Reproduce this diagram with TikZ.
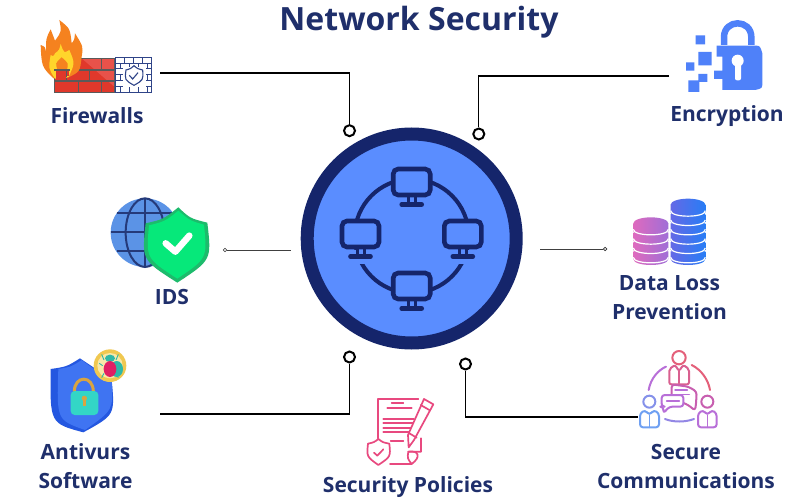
\documentclass[tikz,border=0pt]{standalone}
\usepackage{fontspec}
\setmainfont{Open Sans}
\definecolor{navy}{HTML}{15256B}
\definecolor{hubblue}{HTML}{5A8DFF}
\definecolor{txt}{HTML}{1F2F6B}
\definecolor{lockblue}{HTML}{4F81F9}
\definecolor{brick}{HTML}{E0382B}
\definecolor{brickl}{HTML}{E8524A}
\definecolor{wallg}{HTML}{5A5A5A}
\definecolor{flame}{HTML}{F5821F}
\definecolor{flamey}{HTML}{FFD52B}
\definecolor{wallnavy}{HTML}{2F4488}
\definecolor{globe}{HTML}{5B93E6}
\definecolor{globel}{HTML}{253A7A}
\definecolor{shieldg}{HTML}{06E87A}
\definecolor{shieldd}{HTML}{1DBB6C}
\definecolor{pol}{HTML}{E8497F}
\definecolor{avdark}{HTML}{2457E0}
\definecolor{avlight}{HTML}{3F74F2}
\definecolor{avteal}{HTML}{33D6C6}
\definecolor{avgold}{HTML}{D9A441}
\definecolor{badge}{HTML}{F0C850}
\definecolor{badgein}{HTML}{F8E8A8}
\definecolor{bugpink}{HTML}{E01F63}
\definecolor{bugteal}{HTML}{2FB8A8}
\tikzset{
 lab/.style={font=\fontsize{21}{29}\selectfont\bfseries,text=txt,align=center,inner sep=0pt},
 conn/.style={draw=black,line width=1.3pt},
 thinconn/.style={draw=black!75,line width=.9pt},
 dot/.style={circle,draw=black,line width=2pt,fill=white,minimum size=11pt,inner sep=0pt},
 minidot/.style={circle,draw=black!80,line width=.7pt,fill=white,minimum size=3.5pt,inner sep=0pt},
 mon/.style={draw=navy,fill=hubblue,line width=4.6pt,rounded corners=5pt},
 stand/.style={draw=navy,line width=4.6pt,line cap=round},
}
\newcommand{\monitor}[2]{%
 \fill[hubblue] (#1-14,#2+16) rectangle (#1+14,#2+30);
 \draw[mon] (#1-18.5,#2-13) rectangle (#1+18.5,#2+13);
 \draw[navy,line width=3pt] (#1-3.5,#2+13) -- (#1-3.5,#2+22) (#1+3.5,#2+13) -- (#1+3.5,#2+22);
 \draw[stand] (#1-10,#2+22.5) -- (#1+10,#2+22.5);}
\begin{document}
\begin{tikzpicture}[x=1pt,y=-1pt]
\useasboundingbox[fill=white] (0,0) rectangle (800,500);
\node[font=\fontsize{32}{36}\selectfont\bfseries,text=txt,inner sep=0pt] (title) at (419,22.5) {Network Security};
% hub
\node[circle,draw=navy,line width=13pt,fill=hubblue,minimum size=209pt,inner sep=0pt] (hub) at (411.7,238.5) {};
\node[circle,draw=navy,line width=4pt,minimum size=114pt,inner sep=0pt] (ring) at (411.7,236) {};
\monitor{411.7}{182}
\monitor{360.5}{234}
\monitor{462.8}{234}
\monitor{411.7}{286}
% connectors
\coordinate (fwEnd) at (160,73);
\coordinate (enEnd) at (669,76);
\coordinate (idsEnd) at (291,250);
\coordinate (dlEnd) at (540,249);
\coordinate (avEnd) at (160,414);
\coordinate (scEnd) at (638,417);
\node[dot] (fwDot) at (349.5,130.7) {};
\node[dot] (enDot) at (478.8,134) {};
\node[dot] (avDot) at (349.5,357) {};
\node[dot] (scDot) at (465.5,364) {};
\node[minidot] (idsDot) at (225,250) {};
\node[minidot] (dlDot) at (605,249) {};
\draw[conn] (fwEnd) -| (fwDot);
\draw[conn] (enEnd) -| (enDot);
\draw[conn] (avEnd) -| (avDot);
\draw[conn] (scEnd) -| (scDot);
\draw[thinconn] (idsDot) -- (idsEnd);
\draw[thinconn] (dlEnd) -- (dlDot);
% labels
\node[lab] (lfw) at (97,116) {Firewalls};
\node[lab] (len) at (727,116) {Encryption};
\node[lab] (lids) at (172,296.5) {IDS};
\node[lab] (ldl) at (669.5,297.5) {Data Loss\\Prevention};
\node[lab] (lav) at (85.5,466) {Antivurs\\Software};
\node[lab] (lsp) at (408,487.5) {Security Policies};
\node[lab] (lsc) at (686,466) {Secure\\Communications};
% firewall icon
\begin{scope}[shift={(20,0)},scale=1/3]
 \fill[brick] (103,175) rectangle (283,280);
 \fill[brickl] (185,175) -- (283,175) -- (283,260) -- cycle;
 \draw[wallg,line width=1.3pt] (103,175) rectangle (283,278)
  (103,210) -- (283,210) (103,243) -- (283,243)
  (245,175) -- (245,210) (208,210) -- (208,243) (140,210) -- (140,243) (175,243) -- (175,278) (245,243) -- (245,278);
 \fill[flame] (100,235) .. controls (65,200) .. (62,135) .. controls (75,140) .. (78,155)
   .. controls (78,115) .. (92,88) .. controls (100,105) .. (105,122)
   .. controls (125,95) .. (118,60) .. controls (150,85) .. (155,130)
   .. controls (163,120) .. (165,100) .. controls (190,140) .. (185,170)
   .. controls (180,215) .. (145,232) -- cycle;
 \fill[flamey] (105,236) .. controls (85,205) .. (92,165) .. controls (100,170) .. (105,160)
   .. controls (118,150) .. (122,132) .. controls (132,160) .. (148,150)
   .. controls (165,190) .. (145,232) -- cycle;
 \fill[flame] (114,212) .. controls (105,190) .. (125,172) .. controls (146,190) .. (140,212) -- cycle;
 \fill[brick] (107,213) rectangle (138,240);
 \fill[brick] (142,213) rectangle (148,228);
 \draw[wallg,line width=1.3pt] (103,210) -- (150,210) (140,210) -- (140,232);
 % white wall
 \fill[white] (285,172) rectangle (395,278);
 \draw[wallnavy,line width=1pt] (286,172) rectangle (395,278);
 \foreach \yy in {190,207,225,243,260} \draw[wallnavy,line width=1pt] (286,\yy) -- (395,\yy);
 \foreach \xx in {313,340,367} {\draw[wallnavy,line width=1pt] (\xx,172) -- (\xx,190) (\xx,207) -- (\xx,225) (\xx,243) -- (\xx,260);}
 \foreach \xx in {300,327,354,381} {\draw[wallnavy,line width=1pt] (\xx,190) -- (\xx,207) (\xx,225) -- (\xx,243) (\xx,260) -- (\xx,278);}
 \fill[white] (308,200) rectangle (378,262);
 \draw[wallnavy,line width=1.1pt,fill=white] (342,197) .. controls (352,206) .. (368,210) .. controls (370,240) .. (342,256) .. controls (314,240) .. (318,210) .. controls (332,206) .. cycle;
 \draw[wallnavy,line width=1.1pt] (328,226) -- (338,237) -- (354,218);
\end{scope}
% encryption icon
\begin{scope}[shift={(640,0)},scale=1/3]
 \draw[lockblue,line width=6.5pt] (252,135) -- (252,112) .. controls (252,56) and (334,56) .. (334,112) -- (334,135);
 \fill[lockblue] (230,137) -- (345,137) .. controls (360,137) .. (367,160) -- (367,248) .. controls (367,265) .. (345,270) -- (247,270) -- (247,237) -- (222,237) -- (222,212) -- (247,212) -- (247,170) -- (230,170) -- cycle;
 \fill[white] (293,182) circle[radius=18];
 \fill[white,rounded corners=2pt] (285,190) rectangle (303,241);
 \fill[lockblue] (167,106) rectangle (195,133) (175,156) rectangle (215,196) (138,187) rectangle (163,212) (175,222) rectangle (202,246) (145,241) rectangle (178,276);
\end{scope}
% IDS icon
\begin{scope}[shift={(100,190)},scale=1/3]
 \fill[globe] (135,128) circle[radius=103];
 \draw[globel,line width=2pt] (135,25) -- (135,231) (33,126) -- (238,126) (50,70) -- (220,70) (50,182) -- (220,182);
 \draw[globel,line width=2pt] (135,128) ellipse[x radius=58,y radius=103];
 \fill[shieldd] (235,52) .. controls (270,85) .. (322,98) .. controls (335,210) .. (232,278) .. controls (125,210) .. (137,100) .. controls (190,88) .. cycle;
 \fill[shieldg] (235,62) .. controls (270,92) .. (312,104) .. controls (322,205) .. (232,266) .. controls (138,205) .. (147,106) .. controls (195,94) .. cycle;
 \draw[white,line width=6.5pt,line cap=round,line join=round] (197,160) -- (226,185) -- (268,137);
\end{scope}
% data loss icon
\begin{scope}[shift={(620,190)},scale=1/3]
 \foreach \yy in {207,179,151,123} {
  \shade[left color={rgb,255:red,222;green,106;blue,190},right color={rgb,255:red,160;green,110;blue,215}] (40,\yy) .. controls (40,\yy+24) and (145,\yy+24) .. (145,\yy) -- (145,\yy-23) -- (40,\yy-23) -- cycle;
  \draw[white,line width=1.2pt] (40,\yy-5) .. controls (40,\yy+17) and (145,\yy+17) .. (145,\yy-5);
 }
 \shade[left color={rgb,255:red,222;green,106;blue,190},right color={rgb,255:red,160;green,110;blue,215}] (92.5,100) ellipse[x radius=52.5,y radius=18];
 \foreach \yy in {207,179,151,123,95,67} {
  \shade[left color={rgb,255:red,100;green,105;blue,230},right color={rgb,255:red,40;green,125;blue,245}] (152,\yy) .. controls (152,\yy+24) and (256,\yy+24) .. (256,\yy) -- (256,\yy-23) -- (152,\yy-23) -- cycle;
  \draw[white,line width=1.2pt] (152,\yy-5) .. controls (152,\yy+17) and (256,\yy+17) .. (256,\yy-5);
 }
 \shade[left color={rgb,255:red,100;green,105;blue,230},right color={rgb,255:red,40;green,125;blue,245}] (204,44) ellipse[x radius=52,y radius=18];
\end{scope}
% antivirus icon
\begin{scope}[shift={(30,345)},scale=1/3]
 \fill[avdark] (62,72) .. controls (110,65) .. (150,40) .. controls (195,70) .. (245,105) .. controls (255,210) .. (160,262) .. controls (60,235) .. cycle;
 \fill[avlight] (85,72) .. controls (125,65) .. (155,45) .. controls (195,75) .. (245,105) .. controls (250,195) .. (165,255) .. controls (80,225) .. cycle;
 \draw[avgold,line width=3pt] (133,140) .. controls (133,90) and (190,90) .. (190,140);
 \fill[avteal,rounded corners=4pt] (122,138) rectangle (205,210);
 \fill[avgold] (163,160) circle[radius=8];
 \fill[avgold] (159,160) rectangle (168,183);
 \fill[badge] (240,62) circle[radius=49];
 \fill[badgein] (240,62) circle[radius=38];
 \draw[bugteal,line width=.9pt] (222,45) -- (215,28) (258,45) -- (265,28) (218,62) -- (208,55) (262,62) -- (272,55) (222,85) -- (215,98) (258,85) -- (265,98);
 \fill[bugteal] (260,72) ellipse[x radius=19,y radius=24];
 \fill[bugteal] (240,40) ellipse[x radius=15,y radius=11];
 \fill[bugpink] (240,72) ellipse[x radius=19,y radius=24];
\end{scope}
% policies icon
\begin{scope}[shift={(350,385)},scale=1/3,line cap=round,line join=round]
 \draw[pol,line width=1.7pt] (85,160) -- (85,42) -- (205,42);
 \draw[pol,line width=1.7pt] (125,55) -- (160,55) (112,68) -- (185,68)
   (100,103) -- (192,103) (100,115) -- (190,115) (100,128) -- (188,128) (100,141) -- (180,141) (122,168) -- (160,168);
 \draw[pol,line width=1.7pt] (120,237) -- (185,237) .. controls (172,220) .. (175,200) -- (213,200) -- (213,160);
 \draw[pol,line width=1.7pt] (175,200) .. controls (205,195) and (215,215) .. (185,237);
 \draw[pol,line width=1.7pt,fill=white] (222,42) -- (250,58) -- (192,165) -- (176,187) -- (174,150) -- cycle;
 \draw[pol,line width=1.7pt] (212,60) -- (238,75) (178,145) -- (200,158);
 \draw[pol,line width=1.7pt,fill=white] (85,162) .. controls (98,172) .. (118,176) .. controls (122,215) .. (85,240) .. controls (50,215) .. (54,176) .. controls (72,172) .. cycle;
 \draw[pol,line width=1.7pt] (72,203) -- (82,212) -- (100,193);
\end{scope}
% secure communications icon
\begin{scope}[shift={(630,345)},scale=1/3,line cap=round,line join=round]
 \definecolor{pr}{HTML}{E4607A}\definecolor{pp}{HTML}{B86FD8}\definecolor{pb}{HTML}{6FA0F2}\definecolor{pm}{HTML}{C85FB0}
 \draw[pp,line width=2pt] (56,135) .. controls (62,100) and (85,75) .. (108,65);
 \draw[pr,line width=2pt] (185,60) .. controls (215,75) and (235,105) .. (240,135);
 \draw[pb!50!pp,line width=2pt] (105,222) .. controls (130,232) and (165,232) .. (192,222);
 \draw[pr,line width=2pt] (147,38) circle[radius=20];
 \draw[pr!60!pm,line width=2pt,fill=white,rounded corners=2pt] (118,118) -- (118,72) -- (135,60) -- (147,78) -- (160,60) -- (177,72) -- (177,118) -- cycle;
 \draw[pr!60!pm,line width=1.5pt] (147,78) -- (147,115);
 \draw[pb!70!pp,line width=2pt] (58,170) circle[radius=18];
 \draw[pb,line width=2pt,fill=white,rounded corners=3pt] (30,247) -- (30,205) -- (45,195) -- (58,210) -- (72,195) -- (87,205) -- (87,247) -- cycle;
 \draw[pb,line width=1.5pt] (58,210) -- (58,247);
 \draw[pm,line width=2pt] (232,170) circle[radius=18];
 \draw[pp,line width=2pt,fill=white,rounded corners=3pt] (204,247) -- (204,205) -- (219,195) -- (232,210) -- (246,195) -- (260,205) -- (260,247) -- cycle;
 \draw[pp,line width=1.5pt] (232,210) -- (232,247);
 \draw[pm,line width=2pt,fill=white,rounded corners=3pt] (125,118) -- (175,125) -- (200,140) -- (198,178) -- (195,197) -- (175,180) -- (125,160) -- cycle;
 \draw[pp,line width=2pt,fill=white,rounded corners=3pt] (95,150) -- (160,150) -- (160,185) -- (118,185) -- (100,205) -- (100,185) -- (95,185) -- cycle;
 \draw[pp,line width=1.5pt] (110,168) -- (148,168) (135,135) -- (172,135) (150,148) -- (178,148);
\end{scope}
\end{tikzpicture}
\end{document}
